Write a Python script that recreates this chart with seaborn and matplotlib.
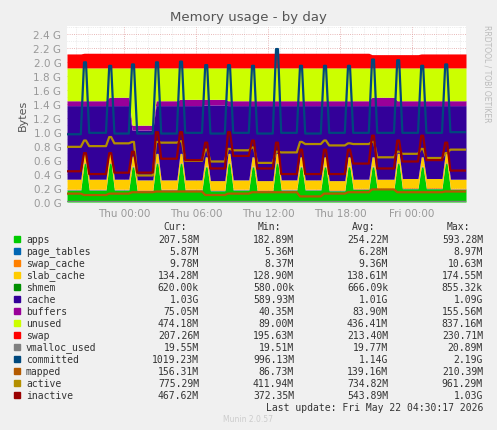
import numpy as np
import matplotlib
matplotlib.use("Agg")
import matplotlib.pyplot as plt
import seaborn as sns

sns.set_theme(style="white")
plt.rcParams["font.family"] = ["DejaVu Sans"]

# hours since Wed 19:15; spike times
spike_times = [1.5, 3.6, 5.5, 7.5, 9.5, 11.6, 13.5, 15.5, 17.5, 19.5, 21.5, 23.5, 25.5, 27.6, 29.6, 31.6]
end_time = 33.25

# per-segment base levels (17 segments between spikes), GB
apps_base = [0.17, 0.17, 0.17, 0.16, 0.17, 0.17, 0.16, 0.17, 0.16, 0.17, 0.17, 0.16, 0.18, 0.18, 0.19, 0.19, 0.18]
apps_peak = [0.55, 0.55, 0.50, 0.55, 0.55, 0.50, 0.55, 0.50, 0.55, 0.50, 0.50, 0.50, 0.50, 0.55, 0.50, 0.55]
page_tables = 0.006
swap_cache = 0.010
slab_base = [0.14, 0.14, 0.14, 0.14, 0.13, 0.13, 0.13, 0.13, 0.13, 0.13, 0.13, 0.13, 0.13, 0.13, 0.13, 0.13, 0.13]
shmem = 0.0006
cache_top = [1.38, 1.38, 1.38, 1.03, 1.38, 1.38, 1.39, 1.38, 1.38, 1.38, 1.38, 1.38, 1.38, 1.38, 1.38, 1.38, 1.38]
buffers = [0.07, 0.07, 0.12, 0.07, 0.07, 0.09, 0.08, 0.07, 0.07, 0.07, 0.07, 0.07, 0.07, 0.12, 0.07, 0.07, 0.07]
ram_top = 1.92
swap = [0.20, 0.21, 0.21, 0.21, 0.21, 0.21, 0.21, 0.21, 0.21, 0.21, 0.21, 0.21, 0.21, 0.19, 0.19, 0.20, 0.20]
vmalloc_used = 0.0195

committed_base = [0.97, 0.99, 0.98, 0.98, 0.98, 0.99, 0.98, 0.99, 0.98, 0.99, 0.98, 0.99, 0.99, 0.99, 0.99, 0.99, 1.00]
committed_peak = [2.00, 1.95, 1.97, 2.00, 2.01, 1.96, 1.96, 1.95, 2.19, 1.95, 1.95, 1.95, 2.04, 2.03, 1.95, 1.97]
mapped_base = [0.12, 0.10, 0.12, 0.14, 0.15, 0.15, 0.10, 0.12, 0.14, 0.14, 0.08, 0.12, 0.14, 0.18, 0.14, 0.14, 0.15]
active_base = [0.79, 0.80, 0.84, 0.38, 0.85, 0.59, 0.58, 0.74, 0.56, 0.71, 0.83, 0.81, 0.83, 0.64, 0.69, 0.63, 0.75]
active_peak = [0.88, 0.93, 0.86, 0.86, 0.87, 0.75, 0.76, 0.78, 0.72, 0.86, 0.88, 0.84, 0.86, 0.72, 0.76, 0.70]
inactive_base = [0.44, 0.40, 0.42, 0.42, 0.62, 0.60, 0.48, 0.66, 0.48, 0.40, 0.40, 0.40, 0.55, 0.48, 0.58, 0.60, 0.45]
inactive_peak = [0.70, 0.70, 0.72, 1.00, 1.00, 0.85, 1.00, 0.88, 0.85, 0.75, 0.75, 0.75, 0.95, 0.88, 0.95, 0.85]

legend_rows = [
    ("apps", "#00CC00", "207.58M", "182.89M", "254.22M", "593.28M"),
    ("page_tables", "#0066B3", "5.87M", "5.36M", "6.28M", "8.97M"),
    ("swap_cache", "#FF8000", "9.78M", "8.37M", "9.36M", "10.63M"),
    ("slab_cache", "#FFCC00", "134.28M", "128.90M", "138.61M", "174.55M"),
    ("shmem", "#008F00", "620.00k", "580.00k", "666.09k", "855.32k"),
    ("cache", "#330099", "1.03G", "589.93M", "1.01G", "1.09G"),
    ("buffers", "#990099", "75.05M", "40.35M", "83.90M", "155.56M"),
    ("unused", "#CCFF00", "474.18M", "89.00M", "436.41M", "837.16M"),
    ("swap", "#FF0000", "207.26M", "195.63M", "213.40M", "230.71M"),
    ("vmalloc_used", "#808080", "19.55M", "19.51M", "19.77M", "20.89M"),
    ("committed", "#00487D", "1019.23M", "996.13M", "1.14G", "2.19G"),
    ("mapped", "#B35A00", "156.31M", "86.73M", "139.16M", "210.39M"),
    ("active", "#B38F00", "775.29M", "411.94M", "734.82M", "961.29M"),
    ("inactive", "#990000", "467.62M", "372.35M", "543.89M", "1.03G"),
]
colors = {r[0]: r[1] for r in legend_rows}


def series(base, peak=None, w=0.35, top=0.08):
    # each spike: ramp up, short plateau, ramp down
    t, v = [0.0], [base[0]]
    for i, s in enumerate(spike_times):
        p = peak[i] if peak is not None else base[i + 1]
        t += [s - w, s - top, s + top, s + w]
        v += [base[i], p, p, base[i + 1]]
    t.append(end_time)
    v.append(base[-1])
    return np.array(t), np.array(v)


t, apps = series(apps_base, apps_peak)
_, slab = series(slab_base)
_, ctop = series(cache_top)
_, buf = series(buffers)
_, sw = series(swap)
low = apps + page_tables + swap_cache + slab + shmem
cache = ctop - low
unused = ram_top - ctop - buf
pt = np.full_like(t, page_tables)
sc = np.full_like(t, swap_cache)
sh = np.full_like(t, shmem)

fig = plt.figure(figsize=(4.97, 4.31), dpi=100, facecolor="#F0F0F0")
ax = fig.add_axes([67 / 497, 1 - 203 / 431, 399 / 497, 176 / 431])
ax.set_facecolor("white")
ax.stackplot(t, apps, pt, sc, slab, sh, cache, buf, unused, sw,
             colors=[colors[k] for k in ["apps", "page_tables", "swap_cache", "slab_cache", "shmem",
                                         "cache", "buffers", "unused", "swap"]], linewidth=0)
ax.plot(t, np.full_like(t, vmalloc_used), color=colors["vmalloc_used"], lw=1)
for name, b, p in [("committed", committed_base, committed_peak), ("mapped", mapped_base, None),
                   ("active", active_base, active_peak), ("inactive", inactive_base, inactive_peak)]:
    tx, vx = series(b, p)
    sns.lineplot(x=tx, y=vx, color=colors[name], lw=1.6, ax=ax, sort=False, zorder=3)

ax.set_xlim(0, end_time)
ax.set_ylim(0, 2.52)
ax.set_yticks(np.arange(0, 2.41, 0.2))
ax.set_yticklabels([f"{v:.1f} G" for v in np.arange(0, 2.41, 0.2)], fontsize=7.5, color="#555555")
ax.set_yticks(np.arange(0, 2.51, 0.1), minor=True)
xt = [4.75 + 6 * k for k in range(5)]
ax.set_xticks(xt)
ax.set_xticklabels(["Thu 00:00", "Thu 06:00", "Thu 12:00", "Thu 18:00", "Fri 00:00"], fontsize=7.5, color="#555555")
ax.set_xticks(np.arange(0.75, end_time, 1.0), minor=True)
ax.grid(which="minor", color="#DDDDDD", ls=":", lw=0.5, zorder=1)
ax.grid(which="major", color="#E0A0A0", ls=":", lw=0.6, zorder=1)
ax.tick_params(length=2, colors="#999999", pad=2)
for s in ax.spines.values():
    s.set_visible(False)
ax.set_ylabel("Bytes", fontsize=8, color="#555555")

fig.text(248 / 497, 1 - 18 / 431, "Memory usage - by day", ha="center", va="center", fontsize=9.5, color="#555555")
fig.text(487 / 497, 1 - 25 / 431, "RRDTOOL / TOBI OETIKER", rotation=270, ha="center", va="top",
         fontsize=5.5, color="#BBBBBB")

mono = "DejaVu Sans Mono"
col_right = [199, 294, 388, 483]
for x, h in zip([187, 281, 375, 470], ["Cur:", "Min:", "Avg:", "Max:"]):
    fig.text(x / 497, 1 - 227 / 431, h, ha="right", va="center", family=mono, fontsize=7, color="#333333")
for i, row in enumerate(legend_rows):
    y = 1 - (240 + 12 * i) / 431
    fig.patches.append(plt.Rectangle((14 / 497, y - 3 / 431), 6 / 497, 6 / 431, color=row[1],
                                     transform=fig.transFigure, figure=fig))
    fig.text(26 / 497, y, row[0], ha="left", va="center", family=mono, fontsize=7, color="#333333")
    for x, val in zip(col_right, row[2:]):
        fig.text(x / 497, y, val, ha="right", va="center", family=mono, fontsize=7, color="#333333")
fig.text(483 / 497, 1 - 408 / 431, "Last update: Fri May 22 04:30:17 2026", ha="right", va="center",
         family=mono, fontsize=7, color="#333333")
fig.text(248 / 497, 1 - 420 / 431, "Munin 2.0.57", ha="center", va="center", fontsize=5.5, color="#CCCCCC")

fig.savefig("out.png", dpi=100, facecolor=fig.get_facecolor())
